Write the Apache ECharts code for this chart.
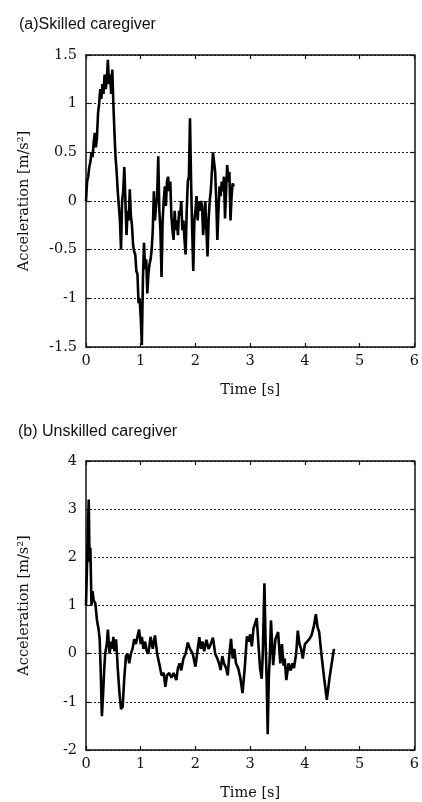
<!DOCTYPE html>
<html>
<head>
<meta charset="utf-8">
<script src="https://cdn.jsdelivr.net/npm/echarts@6/dist/echarts.min.js"></script>
<style>
html,body{margin:0;padding:0;background:#fff;}
#chart{width:422px;height:802px;}
</style>
</head>
<body>
<div id="chart"></div>
<script>
// ---- Data ----
var titleA = '(a)Skilled caregiver';
var titleB = '(b) Unskilled caregiver';
var xTicks = [0, 1, 2, 3, 4, 5, 6];
var yTicksA = [-1.5, -1, -0.5, 0, 0.5, 1, 1.5];
var yTicksB = [-2, -1, 0, 1, 2, 3, 4];

var timeA = [0.00,0.02,0.04,0.06,0.08,0.10,0.12,0.14,0.16,0.18,0.20,0.22,0.24,0.26,0.28,0.30,0.32,0.34,0.36,0.38,0.40,0.42,0.44,0.46,0.48,0.50,0.52,0.54,0.56,0.58,0.60,0.62,0.64,0.66,0.68,0.70,0.72,0.74,0.76,0.78,0.80,0.82,0.84,0.86,0.88,0.90,0.92,0.94,0.96,0.98,1.00,1.02,1.04,1.06,1.08,1.10,1.12,1.14,1.16,1.18,1.20,1.22,1.24,1.26,1.28,1.30,1.32,1.34,1.36,1.38,1.40,1.42,1.44,1.46,1.48,1.50,1.52,1.54,1.56,1.58,1.60,1.62,1.64,1.66,1.68,1.70,1.72,1.74,1.76,1.78,1.80,1.82,1.84,1.86,1.88,1.90,1.92,1.94,1.96,1.98,2.00,2.02,2.04,2.06,2.08,2.10,2.12,2.14,2.16,2.18,2.20,2.22,2.24,2.26,2.28,2.30,2.32,2.34,2.36,2.38,2.40,2.42,2.44,2.46,2.48,2.50,2.52,2.54,2.56,2.58,2.60,2.62,2.64,2.66,2.68,2.70];
var accA = [0.0,0.2,0.25,0.35,0.4,0.5,0.45,0.6,0.7,0.55,0.65,0.9,1.0,1.15,1.05,1.2,1.1,1.3,1.15,1.25,1.45,1.2,1.3,1.1,1.35,1.0,0.7,0.45,0.3,0.1,-0.05,-0.2,-0.5,0.0,0.1,0.35,0.0,-0.35,-0.1,-0.2,0.12,-0.15,-0.25,-0.45,-0.52,-0.55,-0.72,-0.75,-1.05,-1.0,-1.2,-1.48,-0.8,-0.43,-0.7,-0.6,-0.95,-0.75,-0.65,-0.6,-0.5,-0.3,0.1,-0.2,-0.05,0.05,0.46,-0.1,-0.3,-0.78,-0.2,0.0,0.15,-0.05,0.2,0.25,0.1,0.2,-0.15,-0.3,-0.4,-0.1,-0.3,-0.2,-0.35,-0.1,-0.15,0.0,-0.3,-0.2,-0.4,-0.55,-0.1,0.2,0.25,0.85,0.2,-0.3,-0.72,-0.2,-0.1,0.05,-0.2,0.0,-0.1,0.0,-0.05,-0.35,-0.2,0.0,-0.3,-0.57,-0.2,0.0,0.1,0.3,0.5,0.4,0.3,0.0,-0.4,-0.1,0.15,0.05,0.2,0.1,0.25,-0.18,0.1,0.37,0.2,0.3,-0.2,0.05,0.18,0.15];

var timeB = [0.00,0.02,0.04,0.05,0.06,0.07,0.08,0.09,0.10,0.12,0.14,0.17,0.20,0.23,0.25,0.27,0.29,0.31,0.33,0.35,0.38,0.40,0.43,0.46,0.48,0.50,0.52,0.55,0.58,0.61,0.64,0.67,0.70,0.73,0.76,0.79,0.82,0.85,0.88,0.91,0.94,0.97,1.00,1.02,1.05,1.08,1.11,1.14,1.18,1.22,1.26,1.30,1.35,1.38,1.42,1.45,1.48,1.52,1.56,1.60,1.65,1.68,1.71,1.74,1.78,1.82,1.86,1.90,1.95,2.00,2.03,2.07,2.10,2.13,2.16,2.20,2.24,2.28,2.32,2.36,2.40,2.43,2.46,2.49,2.52,2.56,2.59,2.62,2.65,2.68,2.71,2.74,2.78,2.82,2.86,2.90,2.94,2.97,3.00,3.03,3.06,3.09,3.12,3.15,3.18,3.21,3.23,3.26,3.28,3.30,3.32,3.34,3.36,3.38,3.40,3.42,3.46,3.51,3.55,3.58,3.61,3.63,3.66,3.70,3.74,3.77,3.80,3.84,3.87,3.90,3.93,3.96,4.00,4.04,4.08,4.12,4.16,4.20,4.23,4.26,4.30,4.35,4.40,4.45,4.49,4.53];
var accB = [1.0,1.9,2.8,3.2,2.3,1.9,2.2,1.6,1.0,1.3,1.1,1.05,0.7,0.5,0.3,-0.4,-1.3,-0.9,-0.4,0.0,0.2,0.5,0.0,0.25,0.1,0.35,0.05,0.3,-0.3,-0.8,-1.15,-1.1,-0.5,-0.05,0.0,-0.2,0.0,0.1,0.3,0.2,0.35,0.5,0.2,0.35,0.1,0.25,0.05,0.0,0.35,0.1,0.38,0.0,-0.27,-0.45,-0.4,-0.69,-0.45,-0.4,-0.5,-0.4,-0.55,-0.3,-0.2,-0.35,-0.1,0.0,0.23,0.1,0.0,-0.27,0.0,0.34,0.1,0.25,0.05,0.29,0.1,0.2,0.33,0.0,-0.1,-0.2,-0.34,-0.05,-0.2,-0.3,-0.45,0.0,0.31,-0.1,0.1,-0.2,-0.3,-0.5,-0.82,-0.3,0.36,0.25,0.4,0.15,0.52,0.5,0.74,0.2,-0.3,-0.52,0.0,1.46,0.3,-0.5,-1.67,-0.5,0.0,0.69,0.2,-0.24,0.3,0.45,-0.2,0.2,-0.25,-0.1,-0.55,-0.2,-0.35,-0.2,-0.3,0.0,0.48,0.2,0.1,-0.1,0.2,0.25,0.3,0.38,0.55,0.82,0.55,0.45,0.0,-0.5,-0.96,-0.5,-0.2,0.1];

// ---- Build ----
function pairs(t, v) { return t.map(function (x, i) { return [x, v[i]]; }); }

var serif = 'DejaVu Serif';
var ink = '#111';
var fs = 14.5;
var labelStyle = { fontFamily: serif, fontSize: fs, color: ink };

function xAxes(gi) {
  return [
    { gridIndex: gi, type: 'value', position: 'bottom', min: xTicks[0], max: xTicks[xTicks.length - 1], interval: 1,
      name: 'Time [s]', nameLocation: 'middle', nameGap: 36,
      nameTextStyle: { fontFamily: serif, fontSize: fs, color: ink },
      axisLine: { onZero: false, lineStyle: { color: ink, width: 1.5 } },
      axisTick: { inside: true, length: 4, lineStyle: { color: ink, width: 1.2 } },
      axisLabel: Object.assign({ margin: 7 }, labelStyle),
      splitLine: { show: false } },
    { gridIndex: gi, type: 'value', position: 'top', min: xTicks[0], max: xTicks[xTicks.length - 1], interval: 1,
      axisLine: { onZero: false, lineStyle: { color: ink, width: 1.5 } },
      axisTick: { inside: true, length: 4, lineStyle: { color: ink, width: 1.2 } },
      axisLabel: { show: false }, splitLine: { show: false } }
  ];
}
function yAxes(gi, ticks, interval) {
  var mn = ticks[0], mx = ticks[ticks.length - 1];
  return [
    { gridIndex: gi, type: 'value', position: 'left', min: mn, max: mx, interval: interval,
      name: 'Acceleration [m/s²]', nameLocation: 'middle', nameGap: 54,
      nameTextStyle: { fontFamily: serif, fontSize: fs, color: ink },
      axisLine: { show: true, onZero: false, lineStyle: { color: ink, width: 1.5 } },
      axisTick: { show: true, inside: true, length: 4, lineStyle: { color: ink, width: 1.2 } },
      axisLabel: Object.assign({ margin: 9 }, labelStyle),
      splitLine: { show: true, lineStyle: { color: '#222', width: 1, type: [2, 2] } } },
    { gridIndex: gi, type: 'value', position: 'right', min: mn, max: mx, interval: interval,
      axisLine: { show: true, onZero: false, lineStyle: { color: ink, width: 1.5 } },
      axisTick: { show: true, inside: true, length: 4, lineStyle: { color: ink, width: 1.2 } },
      axisLabel: { show: false }, splitLine: { show: false } }
  ];
}

var titleStyle = { fontFamily: 'Liberation Sans', fontSize: 16, fontWeight: 'normal', color: ink };
var option = {
  animation: false,
  backgroundColor: '#fff',
  title: [
    { text: titleA, left: 14, top: 12, textStyle: titleStyle },
    { text: titleB, left: 13, top: 419, textStyle: titleStyle }
  ],
  grid: [
    { left: 86, top: 55, width: 333, height: 292 },
    { left: 86, top: 461, width: 333, height: 291 }
  ],
  xAxis: xAxes(0).concat(xAxes(1)),
  yAxis: yAxes(0, yTicksA, 0.5).concat(yAxes(1, yTicksB, 1)),
  series: [
    { type: 'line', xAxisIndex: 0, yAxisIndex: 0, data: pairs(timeA, accA), showSymbol: false,
      lineStyle: { color: '#000', width: 2.6 }, silent: true },
    { type: 'line', xAxisIndex: 2, yAxisIndex: 2, data: pairs(timeB, accB), showSymbol: false,
      lineStyle: { color: '#000', width: 2.6 }, silent: true }
  ]
};
var chart = echarts.init(document.getElementById('chart'), null, { renderer: 'canvas' });
chart.setOption(option);
</script>
</body>
</html>
